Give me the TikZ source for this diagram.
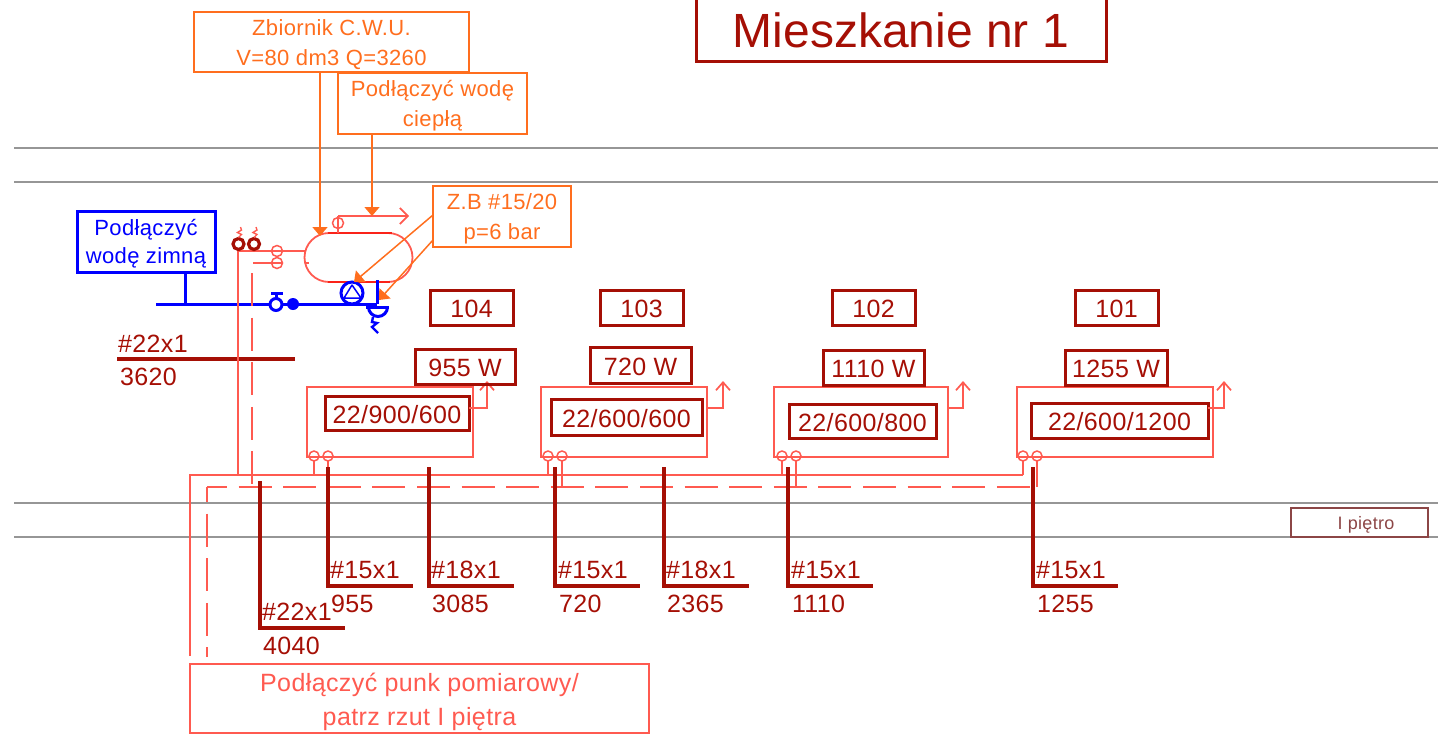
\documentclass[tikz,border=0pt]{standalone}
\usepackage{fontspec}
\setmainfont[LetterSpace=1.6]{Liberation Sans}
\usetikzlibrary{arrows.meta}
\definecolor{orangeL}{RGB}{255,110,30}
\definecolor{darkR}{RGB}{165,15,5}
\definecolor{pipeR}{RGB}{255,90,80}
\definecolor{tankR}{RGB}{250,35,25}
\definecolor{blueL}{RGB}{0,0,255}
\definecolor{greyL}{RGB}{150,150,150}
\definecolor{floorbox}{RGB}{140,70,70}
\newcommand{\dn}[1]{\rule{0pt}{#1pt}}
\tikzset{
  every node/.style={inner sep=0pt,outer sep=0pt,align=center},
  boxbase/.style={draw,rectangle,fill=none},
  orangebox/.style={boxbase,draw=orangeL,text=orangeL,line width=1.6pt,font=\fontsize{22}{30}\selectfont},
  bluebox/.style={boxbase,draw=blueL,text=blueL,line width=3pt,font=\fontsize{22}{28}\selectfont},
  darkbox/.style={boxbase,draw=darkR,text=darkR,line width=3pt,font=\fontsize{25}{30}\selectfont,execute at begin node=\dn{21}},
  titlebox/.style={boxbase,draw=darkR,text=darkR,line width=3pt,font=\fontsize{48}{54}\selectfont\addfontfeature{LetterSpace=0},execute at begin node=\dn{40}},
  redbox/.style={boxbase,draw=pipeR,text=pipeR,line width=1.7pt,font=\fontsize{25}{34}\selectfont},
  radbox/.style={boxbase,draw=pipeR,line width=1.7pt},
  floortag/.style={boxbase,draw=floorbox,text=floorbox,line width=1.2pt,font=\fontsize{18}{20}\selectfont,execute at begin node=\dn{17}\hspace{13pt}},
  label/.style={text=darkR,anchor=west,font=\fontsize{25}{30}\selectfont},
  floorline/.style={draw=greyL,line width=1.2pt},
  pipe/.style={draw=pipeR,line width=1.8pt},
  dashpipe/.style={pipe,dash pattern=on 33pt off 11.6pt},
  bluepipe/.style={draw=blueL,line width=3pt},
  leader/.style={draw=darkR,line width=3.1pt},
  callout/.style={draw=orangeL,line width=1.5pt,-{Triangle[length=9pt,width=15pt,fill=orangeL]}},
  openhead/.style={pipe,-{Straight Barb[length=8pt,width=14pt,line width=1.7pt]}},
  smallvalve/.style={circle,draw=pipeR,line width=1.5pt,minimum size=11pt,fill=none},
  darkvalve/.style={circle,draw=darkR,line width=3.2pt,minimum size=11pt,fill=none},
}
\newcommand{\pbox}[7]{\node[#1,minimum width={(#5-#3)*1pt},minimum height={(#6-#4)*1pt}] (#2) at ({(#3+#5)/2},{(#4+#6)/2}) {#7};}
\newcommand{\radiator}[9]{%
  \pbox{radbox}{rad#1}{#2}{387}{#3}{457}{}
  \pbox{darkbox}{size#1}{#4}{#5}{#6}{#7}{#8}
  \coordinate (vent#1a) at (#9,408);
  \coordinate (vent#1b) at (#9,381);
  \draw[openhead] (rad#1.east |- vent#1a) -- (vent#1a) -- (vent#1b);
}
\newcommand{\radpipes}[2]{%
  \node[smallvalve,minimum size=10pt] (sup#1) at (#2,456) {};
  \node[smallvalve,minimum size=10pt] (ret#1) at ({#2+14},456) {};
  \coordinate (supj#1) at (#2,475);
  \coordinate (retj#1) at ({#2+14},487);
  \draw[pipe] (sup#1) -- (supj#1);
  \draw[pipe] (ret#1) -- (retj#1);
}
\newcommand{\leaderL}[7]{%
  \coordinate (lt#1) at (#2,#3);
  \coordinate (lc#1) at (#2,#4);
  \coordinate (le#1) at ({#2+85},#4);
  \draw[leader,line join=miter] (lt#1) -- (lc#1) -- (le#1);
  \node[label] (lta#1) at ({#2+#7},{#4-16}) {#5};
  \node[label] (ltb#1) at ({#2+#7+1},{#4+17.5}) {#6};
}
\begin{document}
\begin{tikzpicture}[x=1pt,y=-1pt]
\useasboundingbox (0,0) rectangle (1445,742);
% floors
\foreach \yy/\nn in {148/a,182/b,503/c,537/d}{
  \coordinate (fl\nn) at (14,\yy);
  \coordinate (fr\nn) at (1438,\yy);
  \draw[floorline] (fl\nn) -- (fr\nn);
}
% title etc
\pbox{titlebox}{title}{696}{-6}{1106}{61}{Mieszkanie nr 1}
\pbox{floortag}{floor}{1291}{508}{1428}{537}{I piętro}
% main pipes
\coordinate (mainA) at (190,475);
\coordinate (mainB) at (1023,475);
\coordinate (mainC) at (190,656);
\coordinate (dashA) at (207,487);
\coordinate (dashB) at (1037,487);
\coordinate (dashC) at (207,657);
\draw[pipe] (mainC) -- (mainA) -- (mainB);
\draw[dashpipe,dash phase=13] (dashA) -- (dashB);
\draw[dashpipe,dash phase=18] (dashA) -- (dashC);
\pbox{redbox}{measure}{190}{664}{649}{733}{\dn{25}Podłączyć punk pomiarowy/\\patrz rzut I piętra}
% radiators
\radiator{A}{307}{473}{325}{396}{469}{430}{22/900/600}{487}
\radiator{B}{541}{707}{551}{399}{702}{435}{22/600/600}{723}
\radiator{C}{774}{948}{789}{404}{936}{438}{22/600/800}{963}
\radiator{D}{1017}{1213}{1031}{403}{1208}{438}{22/600/1200}{1224}
\draw[pipe] (sizeA.east |- ventAa) -- (radA.east |- ventAa);
\draw[pipe] (sizeD.east |- ventDa) -- (radD.east |- ventDa);
\radpipes{A}{314}
\radpipes{B}{548}
\radpipes{C}{782}
\radpipes{D}{1023}
% power, rooms
\pbox{darkbox}{powA}{415}{349}{515}{384}{955 W}
\pbox{darkbox}{powB}{590}{347}{691}{383}{720 W}
\pbox{darkbox}{powC}{823}{350}{924}{385}{1110 W}
\pbox{darkbox}{powD}{1065}{350}{1167}{385}{1255 W}
\pbox{darkbox}{roomA}{430}{290}{513}{325}{104}
\pbox{darkbox}{roomB}{600}{290}{683}{325}{103}
\pbox{darkbox}{roomC}{832}{290}{915}{325}{102}
\pbox{darkbox}{roomD}{1075}{290}{1158}{325}{101}
% heater
\draw[pipe] (329,233) arc[start angle=90,end angle=270,radius=24.5pt] -- (388,282) arc[start angle=-90,end angle=90,radius=24.5pt] -- cycle;
\coordinate (tankTL) at (328,233);
\coordinate (tankTR) at (392,233);
\coordinate (tankBL) at (328,282);
\coordinate (tankBR) at (390,282);
\draw[draw=tankR,line width=2pt] (tankTL) -- (tankTR);
\draw[draw=tankR,line width=2pt] (tankBL) -- (tankBR);
% hot outlet
\coordinate (hotA) at (338,233);
\coordinate (hotB) at (338,216);
\coordinate (hotC) at (409,216);
\node[smallvalve] (hotV) at (338,223) {};
\draw[pipe] (hotA) -- (hotB);
\draw[openhead,-{Straight Barb[length=8pt,width=16pt,line width=1.7pt]}] (hotB) -- (hotC);
% cold water
\coordinate (coldA) at (156,304);
\coordinate (coldB) at (377,304);
\coordinate (coldU) at (377,280);
\draw[bluepipe] (coldA) -- (coldB);
\draw[bluepipe] (coldB) -- (coldU);
\pbox{bluebox}{cold}{77}{211}{215}{272}{\dn{20}Podłączyć\\wodę zimną}
\coordinate (coldJ) at (185,304);
\draw[bluepipe] (cold.south -| coldJ) -- (coldJ);
% valve and ball
\node[circle,draw=blueL,line width=3pt,minimum size=12pt,fill=white] (bv) at (276,304.5) {};
\node[circle,fill=blueL,minimum size=12pt] (bb) at (293,304) {};
\coordinate (bvT) at (276,293);
\coordinate (bvL) at (271,293);
\coordinate (bvR) at (283,293);
\draw[bluepipe] (bv) -- (bvT);
\draw[bluepipe] (bvL) -- (bvR);
% pump
\node[circle,draw=blueL,line width=3pt,minimum size=22pt,fill=white] (pump) at (352,293) {};
\draw[bluepipe,line width=1.5pt,line join=round] (352,285) -- (344,298) -- (361,298) -- cycle;
% drain
\coordinate (drL) at (366,307);
\coordinate (drR) at (389,307);
\draw[bluepipe] (drL) -- (drR);
\draw[bluepipe] (368.5,307) arc[start angle=180,end angle=360,radius=9.5pt];
\draw[bluepipe,line width=2.4pt] (373,317) -- (372,322) -- (377,323) -- (372,327) -- (378,333);
% first leader
\coordinate (tl) at (117,359);
\coordinate (tr) at (295,359);
\draw[leader] (tl) -- (tr);
\node[label] (t22) at (118,344) {\#22x1};
\node[label] (t3620) at (120,377) {3620};
% risers
\coordinate (riseS) at (238,475);
\coordinate (riseSt) at (238,251);
\coordinate (tankS) at (305,251);
\coordinate (riseRa) at (252,273);
\coordinate (riseRb) at (252,487);
\draw[pipe] (riseS) -- (riseSt) -- (tankS);
\draw[dashpipe] (riseRa) -- (riseRb);
\node[smallvalve] (vS) at (277,251) {};
\node[smallvalve] (vR) at (277,263) {};
\coordinate (retL) at (253,263);
\coordinate (retR) at (283,263);
\coordinate (tickL) at (305,263);
\coordinate (tickR) at (309,263);
\draw[pipe] (retL) -- (retR);
\draw[pipe] (tickL) -- (tickR);
\node[darkvalve] (dvA) at (238.5,244) {};
\node[darkvalve] (dvB) at (254,244) {};
\foreach \nn in {dvA,dvB}{
  \draw[draw=pipeR,line width=1.4pt] (\nn.north) ++(0,-1) -- ++(3,-3) -- ++(-4,-2) -- ++(4,-2.5) -- ++(-1,-3);
}
% callouts
\pbox{orangebox}{zb}{194}{12}{469}{72}{\dn{21}Zbiornik C.W.U.\\V=80 dm3 Q=3260}
\pbox{orangebox}{hot}{338}{73}{527}{134}{\dn{21.5}Podłączyć wodę\\ciepłą}
\pbox{orangebox}{zab}{433}{186}{571}{247}{\dn{21}Z.B \#15/20\\p=6 bar}
\coordinate (zbT) at (320,236);
\coordinate (zbS) at (320,72);
\coordinate (hotT) at (372,216);
\coordinate (hotS) at (372,134);
\coordinate (zaS1) at (433,215);
\coordinate (zaT1) at (354,282);
\coordinate (zaS2) at (433,240);
\coordinate (zaT2) at (379,300);
\draw[callout] (zbS) -- (zbT);
\draw[callout] (hotS) -- (hotT);
\draw[callout] (zaS1) -- (zaT1);
\draw[callout] (zaS2) -- (zaT2);
% leaders
\leaderL{a}{260}{481}{628}{\#22x1}{4040}{2}
\leaderL{b}{328}{467}{586}{\#15x1}{955}{2}
\leaderL{c}{429}{467}{586}{\#18x1}{3085}{2}
\leaderL{d}{555}{467}{586}{\#15x1}{720}{3}
\leaderL{e}{664}{467}{586}{\#18x1}{2365}{2}
\leaderL{f}{788}{467}{586}{\#15x1}{1110}{3}
\leaderL{g}{1033}{467}{586}{\#15x1}{1255}{3}
\end{tikzpicture}
\end{document}
